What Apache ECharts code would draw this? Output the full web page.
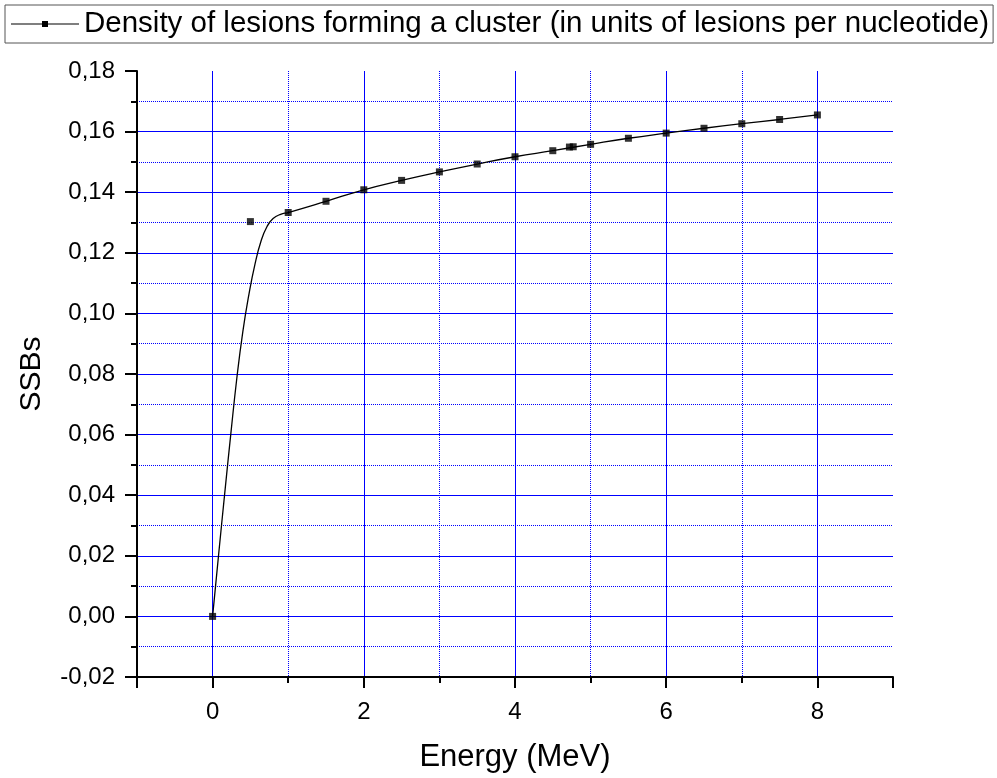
<!DOCTYPE html>
<html>
<head>
<meta charset="utf-8">
<script src="https://cdn.jsdelivr.net/npm/echarts@6/dist/echarts.min.js"></script>
<style>
  html, body { margin: 0; padding: 0; background: #fff; }
  #chart { width: 997px; height: 778px; }
</style>
</head>
<body>
<div id="chart"></div>
<script>
const seriesName = 'Density of lesions forming a cluster (in units of lesions per nucleotide)'

// measured points (square markers)
const energy = [0, 0.5, 1, 1.5, 2, 2.5, 3, 3.5, 4, 4.5, 4.72, 4.77, 5, 5.5, 6, 6.5, 7, 7.5, 8]
const ssbs = [0, 0.1303, 0.1333, 0.137, 0.1408, 0.1439, 0.1467, 0.1493, 0.1517, 0.1537, 0.1549, 0.155, 0.1558, 0.1578, 0.1595, 0.1611, 0.1626, 0.164, 0.1655]

// fitted curve
const fitEnergy = [0, 0.08, 0.16, 0.24, 0.32, 0.4, 0.48, 0.56, 0.64, 0.72, 0.8, 0.9, 1, 1.5, 2, 2.5, 3, 3.5, 4, 4.5, 5, 5.5, 6, 6.5, 7, 7.5, 8]
const fitSSB = [0, 0.0205, 0.0405, 0.06, 0.0785, 0.094, 0.1062, 0.1162, 0.1238, 0.1287, 0.1313, 0.1327, 0.1333, 0.137, 0.1408, 0.1439, 0.1467, 0.1493, 0.1517, 0.1537, 0.1558, 0.1578, 0.1595, 0.1611, 0.1626, 0.164, 0.1655]

const font = 'Liberation Sans, Arial, sans-serif'
const majorGrid = ['#0000ff']
const minorGrid = ['#8fe88f']

const chart = echarts.init(document.getElementById('chart'))

const option = {
  animation: false,
  textStyle: { fontFamily: font },
  legend: {
    left: 5,
    top: 5,
    padding: [4, 4, 4, 6],
    borderColor: '#555',
    borderWidth: 1,
    itemWidth: 68,
    itemHeight: 8,
    itemGap: 6,
    data: [{ name: seriesName, icon: 'path://M0,3.4h68v1.2h-68z M31,1h6v6h-6z' }],
    textStyle: { fontFamily: font, fontSize: 29.5, color: '#000' }
  },
  grid: { left: 137, right: 104, top: 71, bottom: 97 },
  xAxis: {
    type: 'value',
    min: -1,
    max: 9,
    splitNumber: 5,
    name: 'Energy (MeV)',
    nameLocation: 'middle',
    nameGap: 65,
    nameTextStyle: { fontFamily: font, fontSize: 31, color: '#000' },
    axisLine: { onZero: false, lineStyle: { color: '#000', width: 2 } },
    axisTick: { length: 11, lineStyle: { color: '#000', width: 2 } },
    minorTick: { show: true, splitNumber: 2, length: 6, lineStyle: { color: '#000', width: 2 } },
    axisLabel: { showMinLabel: false, showMaxLabel: false, margin: 23, fontSize: 24, color: '#000', fontFamily: font },
    splitLine: { show: true, showMinLine: false, showMaxLine: false, lineStyle: { color: majorGrid, width: 1 } },
    minorSplitLine: { show: true, lineStyle: { color: minorGrid, width: 1, type: 'dotted' } }
  },
  yAxis: {
    type: 'value',
    min: -0.02,
    max: 0.18,
    interval: 0.02,
    name: 'SSBs',
    nameLocation: 'middle',
    nameGap: 90,
    nameTextStyle: { fontFamily: font, fontSize: 30, color: '#000' },
    axisLine: { show: true, onZero: false, lineStyle: { color: '#000', width: 2 } },
    axisTick: { show: true, length: 12, lineStyle: { color: '#000', width: 2 } },
    minorTick: { show: true, splitNumber: 2, length: 6, lineStyle: { color: '#000', width: 2 } },
    axisLabel: {
      margin: 22,
      fontSize: 24,
      color: '#000',
      fontFamily: font,
      formatter: v => v.toFixed(2).replace('.', ',')
    },
    splitLine: { show: true, showMinLine: false, showMaxLine: false, lineStyle: { color: majorGrid, width: 1 } },
    minorSplitLine: { show: true, lineStyle: { color: minorGrid, width: 1, type: 'dotted' } }
  },
  series: [
    {
      name: seriesName,
      type: 'line',
      smooth: 0.5,
      symbol: 'none',
      lineStyle: { color: '#000', width: 1.3 },
      itemStyle: { color: '#000' },
      data: fitEnergy.map((x, i) => [x, fitSSB[i]]),
      z: 3
    },
    {
      name: seriesName,
      type: 'scatter',
      symbol: 'rect',
      symbolSize: 7,
      itemStyle: { color: '#000' },
      data: energy.map((x, i) => [x, ssbs[i]]),
      z: 4
    }
  ]
}

chart.setOption(option)
</script>
</body>
</html>
